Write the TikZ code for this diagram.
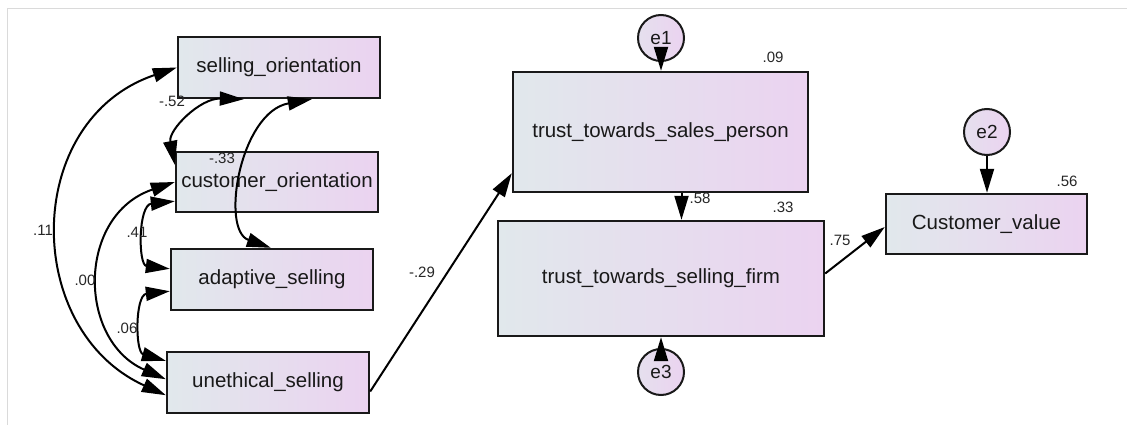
\documentclass[tikz,border=0pt]{standalone}
\usepackage{fontspec}
\setmainfont{Liberation Sans}
\usetikzlibrary{arrows.meta,calc}

\definecolor{boxleft}{HTML}{E1E8EC}
\definecolor{boxright}{HTML}{EBD3F0}
\definecolor{framegray}{HTML}{DADADA}

\tikzset{
  obsvar/.style={draw=black!90, line width=2.4pt, rectangle, inner sep=0pt,
    left color=boxleft, right color=boxright,
    font=\fontsize{20.5}{24}\selectfont, text=black!90},
  errvar/.style={draw=black!90, line width=2pt, circle, inner sep=0pt,
    minimum size=46pt, left color=boxleft!60!boxright, right color=boxright,
    font=\fontsize{19}{22}\selectfont, text=black!90},
  path/.style={line width=2pt, -{Triangle[length=24pt,width=14pt]}},
  cov/.style={line width=2pt, {Triangle[length=24pt,width=14pt]}-{Triangle[length=24pt,width=14pt]}},
  est/.style={font=\fontsize{15}{18}\selectfont, text=black!85, inner sep=0pt},
}

\begin{document}
\begin{tikzpicture}[x=1pt,y=-1pt]
  \useasboundingbox (0,0) rectangle (1127,425);
  % light frame along top and left edges
  \draw[framegray, line width=1pt] (1127,9) -- (7,9) -- (7,425);

  % observed variables
  \node[obsvar, minimum width=202pt, minimum height=61pt] (so)  at (279,67.5)   {selling\_orientation};
  \node[obsvar, minimum width=202pt, minimum height=60pt] (co)  at (277,182)    {customer\_orientation};
  \node[obsvar, minimum width=202pt, minimum height=61pt] (as)  at (272,279.5)  {adaptive\_selling};
  \node[obsvar, minimum width=202pt, minimum height=61pt] (us)  at (268,382.5)  {unethical\_selling};
  \node[obsvar, minimum width=295pt, minimum height=120pt] (tsp) at (660.5,132) {trust\_towards\_sales\_person};
  \node[obsvar, minimum width=326pt, minimum height=115pt] (tsf) at (661,278.5) {trust\_towards\_selling\_firm};
  \node[obsvar, minimum width=201pt, minimum height=60pt] (cv)  at (986.5,224)  {Customer\_value};

  % error terms
  \node[errvar] (e1) at (661,38)  {e1};
  \node[errvar] (e2) at (987,132) {e2};
  \node[errvar] (e3) at (661,372) {e3};

  % attachment points
  \coordinate (usA) at ($(us.south west)+(0,-19)$);
  \coordinate (usB) at ($(us.south west)+(0,-35)$);
  \coordinate (usC) at ($(us.north west)+(0,10)$);
  \coordinate (coA) at ($(co.south west)+(0,-12)$);
  \coordinate (coB) at ($(co.north west)+(0,14)$);
  \coordinate (asA) at ($(as.north west)+(0,21)$);
  \coordinate (asB) at ($(as.south west)+(0,-20)$);
  \coordinate (asC) at ($(as.north west)+(101,0)$);
  \coordinate (soA) at ($(so.south west)+(67,0)$);
  \coordinate (soB) at ($(so.south west)+(135,0)$);
  \coordinate (usR) at ($(us.east)+(0,9)$);
  \coordinate (tspL) at ($(tsp.south west)+(0,-20)$);
  \coordinate (tspB) at ($(tsp.south)+(21,0)$);
  \coordinate (tsfR) at ($(tsf.east)+(0,-5)$);
  \coordinate (cvL) at ($(cv.west)+(0,3)$);

  % covariances among exogenous variables
  \draw[cov] (usA) .. controls (22,330) and (22,120) .. (so.west);
  \draw[cov] (usB) .. controls (77,340) and (77,215) .. (co.west);
  \draw[cov] (coA) .. controls (138,205) and (138,265) .. (asA);
  \draw[cov] (asB) .. controls (135,295) and (135,352) .. (usC);
  \draw[cov] (soA) .. controls (200,98) and (168,130) .. (coB);
  \draw[cov] (soB) .. controls (240,112) and (220,230) .. (asC);

  % regression paths
  \draw[path] (usR) -- (tspL);
  \draw[path] (tspB) -- (tspB |- tsf.north);
  \draw[path] (tsfR) -- (cvL);
  \draw[path] (e1.south) -- (e1.south |- tsp.north);
  \draw[path] (e2.south) -- (e2.south |- cv.north);
  \draw[path] (e3.north) -- (e3.north |- tsf.south);

  % estimates
  \node[est] (l1)  at (172,101) {-.52};
  \node[est] (l2)  at (222,158) {-.33};
  \node[est] (l3)  at (43,230)  {.11};
  \node[est] (l4)  at (137,232) {.41};
  \node[est] (l5)  at (85,280)  {.00};
  \node[est] (l6)  at (127,328) {.06};
  \node[est] (l7)  at (422,272) {-.29};
  \node[est] (l8)  at (773,57)  {.09};
  \node[est] (l9)  at (700,198) {.58};
  \node[est] (l10) at (783,207) {.33};
  \node[est] (l11) at (840,240) {.75};
  \node[est] (l12) at (1067,181) {.56};
\end{tikzpicture}
\end{document}
